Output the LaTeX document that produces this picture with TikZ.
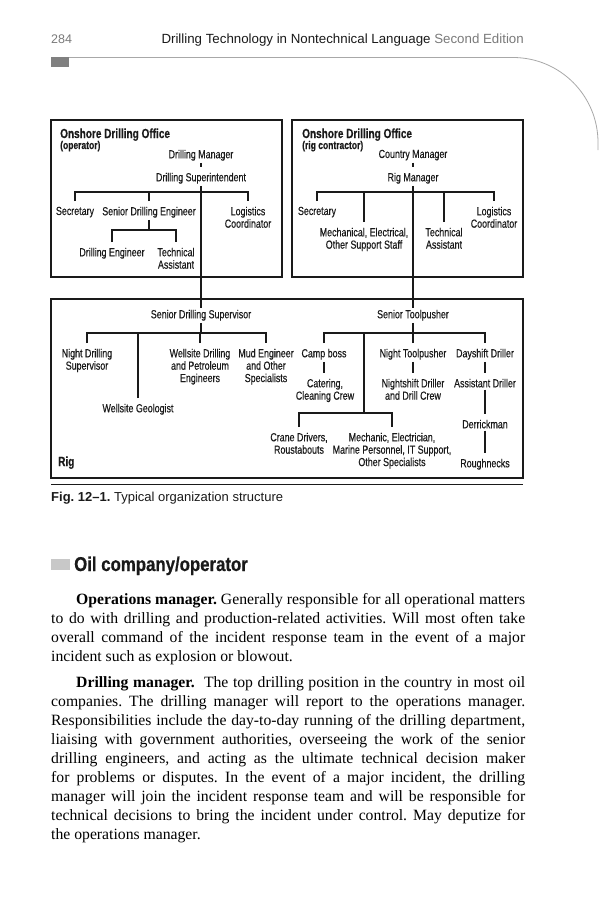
\documentclass[tikz,border=0pt]{standalone}
\usepackage{fontspec}
\setmainfont{Liberation Serif}
\newfontfamily\dgm[FakeStretch=0.76, FakeBold=0.35]{Liberation Sans}
\newfontfamily\hdbold[FakeStretch=0.84, FakeBold=0.5]{Liberation Sans}
\newfontfamily\hsans{Liberation Sans}
\definecolor{hdgray}{HTML}{7A7A7A}
\definecolor{rulegray}{HTML}{A8A8A8}
\definecolor{sqgray}{HTML}{808080}
\definecolor{lsqgray}{HTML}{C8C8C8}
\definecolor{ink}{HTML}{1A1A1A}
\tikzset{
  role/.style={font=\dgm\fontsize{11.7}{12.4}\selectfont, align=center, inner xsep=0pt, inner ysep=2pt, anchor=north, text=ink},
  boxtitle/.style={font=\dgm\bfseries\fontsize{13.2}{14}\selectfont, anchor=base west, inner sep=0pt, text=ink},
  boxsub/.style={font=\dgm\bfseries\fontsize{11.2}{12}\selectfont, anchor=base west, inner sep=0pt, text=ink},
  frame/.style={draw=ink, line width=1.6pt, inner sep=0pt},
  conn/.style={draw=ink, line width=1.1pt},
  tochild/.style={shorten >=3.5pt},
  fromchild/.style={shorten <=3.5pt},
  bodyline/.style={anchor=base west, inner sep=0pt, font=\fontsize{15.7}{19}\selectfont, text=black},
}
\newcommand\role[4]{\node[role] (#1) at (#2,#3-10.4) {#4};}
\newcommand\bline[4]{\node[bodyline] (#1) at (#2,#3) {#4};}
\frenchspacing
\begin{document}
\begin{tikzpicture}[x=1pt,y=-1pt]
\useasboundingbox (0,0) rectangle (600,900);
\fill[white] (0,0) rectangle (600,900);

% ---------- running head ----------
\node[anchor=base west, inner sep=0pt, font=\hsans\fontsize{12.5}{14}\selectfont, text=hdgray] (pgno) at (51,43) {284};
\node[anchor=base east, inner sep=0pt, font=\hsans\fontsize{13.3}{15}\selectfont] (rhead) at (524,43)
  {\textcolor{ink}{Drilling Technology in Nontechnical Language} \textcolor{hdgray}{Second Edition}};
\fill[sqgray] (51,57) rectangle (69,67);
\draw[rulegray, line width=0.8pt] (69,57.5) -- (513,57.5) arc[start angle=-90, end angle=0, radius=85] -- (598,150);

% ---------- frames ----------
\node[frame, minimum width=231pt, minimum height=157pt] (lbox) at (166.5,198.5) {};
\node[frame, minimum width=231pt, minimum height=157pt] (rbox) at (407.5,198.5) {};
\node[frame, minimum width=472pt, minimum height=179pt] (rigbox) at (287,388.5) {};

% ---------- operator office ----------
\node[boxtitle] (ltitle) at (60,138) {Onshore Drilling Office};
\node[boxsub] (lsub) at (60,149) {(operator)};
\role{dm}{201}{158}{Drilling Manager}
\role{ds}{201}{181}{Drilling Superintendent}
\role{lsec}{75}{215}{Secretary}
\role{sde}{149}{215}{Senior Drilling Engineer}
\role{llog}{248}{215}{Logistics\\Coordinator}
\role{de}{112}{256}{Drilling Engineer}
\role{lta}{176}{256}{Technical\\Assistant}

% ---------- contractor office ----------
\node[boxtitle] (rtitle) at (302,138) {Onshore Drilling Office};
\node[boxsub] (rsub) at (302,149) {(rig contractor)};
\role{cm}{413}{158}{Country Manager}
\role{rm}{413}{181}{Rig Manager}
\role{rsec}{317}{215}{Secretary}
\role{mech}{364}{236}{Mechanical, Electrical,\\Other Support Staff}
\role{rta}{444}{236}{Technical\\Assistant}
\role{rlog}{494}{215}{Logistics\\Coordinator}

% ---------- rig ----------
\node[boxtitle] (rigt) at (58,466) {Rig};
\role{sds}{201}{318}{Senior Drilling Supervisor}
\role{nds}{87}{357}{Night Drilling\\Supervisor}
\role{wde}{200}{357}{Wellsite Drilling\\and Petroleum\\Engineers}
\role{mud}{266}{357}{Mud Engineer\\and Other\\Specialists}
\role{wg}{138}{412}{Wellsite Geologist}
\role{st}{413}{318}{Senior Toolpusher}
\role{cb}{324}{357}{Camp boss}
\role{cat}{325}{387}{Catering,\\Cleaning Crew}
\role{nt}{413}{357}{Night Toolpusher}
\role{nd}{413}{387}{Nightshift Driller\\and Drill Crew}
\role{dd}{485}{357}{Dayshift Driller}
\role{ad}{485}{387}{Assistant Driller}
\role{dk}{485}{428}{Derrickman}
\role{rn}{485}{467}{Roughnecks}
\role{crane}{299}{441}{Crane Drivers,\\Roustabouts}
\role{mec}{392}{441}{Mechanic, Electrician,\\Marine Personnel, IT Support,\\Other Specialists}
\coordinate (svctop) at (364,333);
\coordinate (svcjoin) at (364,413);

% ---------- connectors: operator ----------
\draw[conn, tochild] (dm.south) -- (ds.north);
\draw[conn] (ds.south) -- (ds.south |- sds.north);
\draw[conn, fromchild, tochild] (lsec.north) |- (llog.north |- 0,192) -- (llog.north);
\draw[conn, fromchild] (sde.north) -- (sde.north |- 0,192);
\draw[conn] (sde.south) -- (sde.south |- 0,230);
\draw[conn, fromchild, tochild] (de.north) |- (lta.north |- 0,230) -- (lta.north);

% ---------- connectors: contractor ----------
\draw[conn, tochild] (cm.south) -- (rm.north);
\draw[conn] (rm.south) -- (rm.south |- st.north);
\draw[conn, fromchild, tochild] (rsec.north) |- (rlog.north |- 0,192) -- (rlog.north);
\draw[conn, fromchild] (mech.north) -- (mech.north |- 0,192);
\draw[conn, fromchild] (rta.north) -- (rta.north |- 0,192);

% ---------- connectors: rig ----------
\draw[conn] (sds.south) -- (sds.south |- 0,333);
\draw[conn, fromchild, tochild] (nds.north) |- (mud.north |- 0,333) -- (mud.north);
\draw[conn, fromchild] (wde.north) -- (wde.north |- 0,333);
\draw[conn, fromchild] (wg.north) -- (wg.north |- 0,333);
\draw[conn] (st.south) -- (st.south |- 0,333);
\draw[conn, fromchild, tochild] (cb.north) |- (dd.north |- 0,333) -- (dd.north);
\draw[conn, fromchild] (nt.north) -- (nt.north |- 0,333);
\draw[conn] (svctop) -- (svcjoin);
\draw[conn, fromchild, tochild] (crane.north) |- (mec.north |- svcjoin) -- (mec.north);
\draw[conn, tochild] (cb.south) -- (cb.south |- cat.north);
\draw[conn, tochild] (nt.south) -- (nd.north);
\draw[conn, tochild] (dd.south) -- (ad.north);
\draw[conn, tochild] (ad.south) -- (dk.north);
\draw[conn, tochild] (dk.south) -- (rn.north);

% ---------- caption ----------
\draw[ink, line width=0.8pt] (51,484) -- (523,484);
\node[anchor=base west, inner sep=0pt, font=\hsans\fontsize{13}{15}\selectfont, text=ink] (cap) at (51,501)
  {\textbf{Fig. 12–1.} Typical organization structure};

% ---------- heading ----------
\fill[lsqgray] (51,559) rectangle (70,570);
\node[anchor=base west, inner sep=0pt, font=\hdbold\bfseries\fontsize{20}{22}\selectfont, text=ink] (head) at (74,571) {Oil company/operator};

% ---------- body text ----------
\bline{a1}{76}{604}{\hbox to 449pt{\textbf{Operations manager.} Generally responsible for all operational matters}}
\bline{a2}{51}{623}{\hbox to 474pt{to do with drilling and production-related activities. Will most often take}}
\bline{a3}{51}{642}{\hbox to 474pt{overall command of the incident response team in the event of a major}}
\bline{a4}{51}{661}{incident such as explosion or blowout.}
\bline{b1}{76}{687}{\hbox to 449pt{\textbf{Drilling manager.}\ \ The top drilling position in the country in most oil}}
\bline{b2}{51}{706}{\hbox to 474pt{companies. The drilling manager will report to the operations manager.}}
\bline{b3}{51}{725}{\hbox to 474pt{Responsibilities include the day-to-day running of the drilling department,}}
\bline{b4}{51}{744}{\hbox to 474pt{liaising with government authorities, overseeing the work of the senior}}
\bline{b5}{51}{763}{\hbox to 474pt{drilling engineers, and acting as the ultimate technical decision maker}}
\bline{b6}{51}{782}{\hbox to 474pt{for problems or disputes. In the event of a major incident, the drilling}}
\bline{b7}{51}{801}{\hbox to 474pt{manager will join the incident response team and will be responsible for}}
\bline{b8}{51}{820}{\hbox to 474pt{technical decisions to bring the incident under control. May deputize for}}
\bline{b9}{51}{839}{the operations manager.}
\end{tikzpicture}
\end{document}
